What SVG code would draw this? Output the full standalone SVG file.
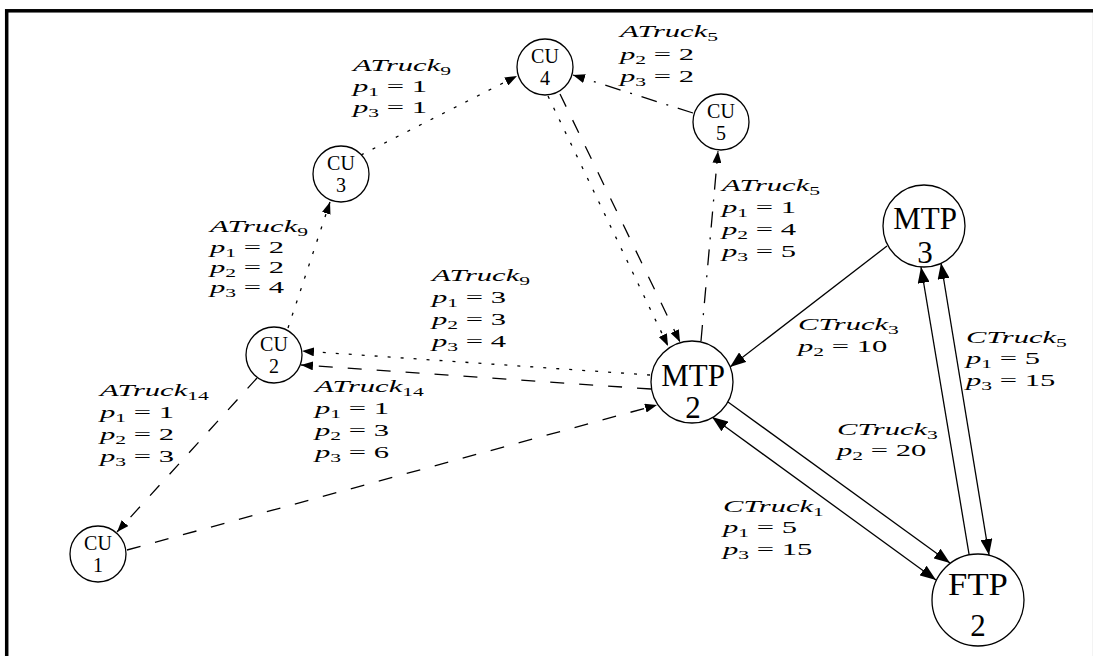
<svg xmlns="http://www.w3.org/2000/svg" width="1093" height="656" viewBox="0 0 1093 656">
  <style>
    .frame { fill: white; stroke: black; stroke-width: 3.5; }
    .node circle { fill: white; stroke: black; stroke-width: 1.3; }
    .node text { font-family: "Liberation Serif", "Times New Roman", serif; font-size: 20px; text-anchor: middle; fill: black; }
    .node.big text { font-size: 31px; }
    .edge { fill: none; stroke: black; stroke-width: 1.3; }
    .dot { stroke-dasharray: 3 10; }
    .dash { stroke-dasharray: 14 15; }
    .dd { stroke-dasharray: 16 10 2 10; }
    .lbl text { font-family: "Liberation Serif", "Times New Roman", serif; font-size: 17px; fill: black; white-space: pre; }
    .it { font-style: italic; }
    .sub { font-size: 12px; }
  </style>
  <defs>
    <marker id="as" markerUnits="userSpaceOnUse" markerWidth="12" markerHeight="9" refX="12" refY="4.5" orient="auto-start-reverse">
      <path d="M0,0 L12,4.5 L0,9 Z" fill="black"/>
    </marker>
    <marker id="al" markerUnits="userSpaceOnUse" markerWidth="16" markerHeight="12" refX="16" refY="6" orient="auto-start-reverse">
      <path d="M0,0 L16,6 L0,12 Z" fill="black"/>
    </marker>
  </defs>

  <!-- outer frame -->
  <rect class="frame" x="6.7" y="10.8" width="1088" height="700"/>

  <!-- connectors and their labels -->
  <g id="connectors">
    <g id="e-cu3-cu4">
      <path class="edge dot" d="M361,155 L517,76" marker-end="url(#as)"/>
      <g class="lbl">
        <text transform="translate(353 71) scale(1.8 1)"><tspan class="it">ATruck</tspan><tspan class="sub" dy="4">9</tspan></text>
        <text transform="translate(353 92) scale(1.8 1)"><tspan class="it">p</tspan><tspan class="sub" dy="4">1</tspan><tspan dy="-4"> = 1</tspan></text>
        <text transform="translate(353 113) scale(1.8 1)"><tspan class="it">p</tspan><tspan class="sub" dy="4">3</tspan><tspan dy="-4"> = 1</tspan></text>
      </g>
    </g>
    <g id="e-cu5-cu4">
      <path class="edge dd" d="M693,113 L573,75" marker-end="url(#as)"/>
      <g class="lbl">
        <text transform="translate(620 37) scale(1.8 1)"><tspan class="it">ATruck</tspan><tspan class="sub" dy="4">5</tspan></text>
        <text transform="translate(620 59.5) scale(1.8 1)"><tspan class="it">p</tspan><tspan class="sub" dy="4">2</tspan><tspan dy="-4"> = 2</tspan></text>
        <text transform="translate(620 81.5) scale(1.8 1)"><tspan class="it">p</tspan><tspan class="sub" dy="4">3</tspan><tspan dy="-4"> = 2</tspan></text>
      </g>
    </g>
    <g id="e-cu4-mtp2-a">
      <path class="edge dot" d="M548,96 L668,346" marker-end="url(#as)"/>
    </g>
    <g id="e-cu4-mtp2-b">
      <path class="edge dash" d="M560,94 L680,342" marker-end="url(#as)"/>
    </g>
    <g id="e-mtp2-cu5">
      <path class="edge dd" d="M701,341 L718,151" marker-end="url(#as)"/>
      <g class="lbl">
        <text transform="translate(722 191) scale(1.8 1)"><tspan class="it">ATruck</tspan><tspan class="sub" dy="4">5</tspan></text>
        <text transform="translate(722 213) scale(1.8 1)"><tspan class="it">p</tspan><tspan class="sub" dy="4">1</tspan><tspan dy="-4"> = 1</tspan></text>
        <text transform="translate(722 235) scale(1.8 1)"><tspan class="it">p</tspan><tspan class="sub" dy="4">2</tspan><tspan dy="-4"> = 4</tspan></text>
        <text transform="translate(722 257) scale(1.8 1)"><tspan class="it">p</tspan><tspan class="sub" dy="4">3</tspan><tspan dy="-4"> = 5</tspan></text>
      </g>
    </g>
    <g id="e-cu2-cu3">
      <path class="edge dot" d="M288,328 L330,202" marker-end="url(#as)"/>
      <g class="lbl">
        <text transform="translate(210 232) scale(1.8 1)"><tspan class="it">ATruck</tspan><tspan class="sub" dy="4">9</tspan></text>
        <text transform="translate(210 253) scale(1.8 1)"><tspan class="it">p</tspan><tspan class="sub" dy="4">1</tspan><tspan dy="-4"> = 2</tspan></text>
        <text transform="translate(210 273) scale(1.8 1)"><tspan class="it">p</tspan><tspan class="sub" dy="4">2</tspan><tspan dy="-4"> = 2</tspan></text>
        <text transform="translate(210 293) scale(1.8 1)"><tspan class="it">p</tspan><tspan class="sub" dy="4">3</tspan><tspan dy="-4"> = 4</tspan></text>
      </g>
    </g>
    <g id="e-mtp2-cu2-a">
      <path class="edge dot" d="M650,375 L302,351" marker-end="url(#as)"/>
      <g class="lbl">
        <text transform="translate(432 281) scale(1.8 1)"><tspan class="it">ATruck</tspan><tspan class="sub" dy="4">9</tspan></text>
        <text transform="translate(432 303) scale(1.8 1)"><tspan class="it">p</tspan><tspan class="sub" dy="4">1</tspan><tspan dy="-4"> = 3</tspan></text>
        <text transform="translate(432 325) scale(1.8 1)"><tspan class="it">p</tspan><tspan class="sub" dy="4">2</tspan><tspan dy="-4"> = 3</tspan></text>
        <text transform="translate(432 347) scale(1.8 1)"><tspan class="it">p</tspan><tspan class="sub" dy="4">3</tspan><tspan dy="-4"> = 4</tspan></text>
      </g>
    </g>
    <g id="e-mtp2-cu2-b">
      <path class="edge dash" d="M651,389 L301,365" marker-end="url(#as)"/>
      <g class="lbl">
        <text transform="translate(315 392) scale(1.8 1)"><tspan class="it">ATruck</tspan><tspan class="sub" dy="4">14</tspan></text>
        <text transform="translate(315 414) scale(1.8 1)"><tspan class="it">p</tspan><tspan class="sub" dy="4">1</tspan><tspan dy="-4"> = 1</tspan></text>
        <text transform="translate(315 436) scale(1.8 1)"><tspan class="it">p</tspan><tspan class="sub" dy="4">2</tspan><tspan dy="-4"> = 3</tspan></text>
        <text transform="translate(315 458) scale(1.8 1)"><tspan class="it">p</tspan><tspan class="sub" dy="4">3</tspan><tspan dy="-4"> = 6</tspan></text>
      </g>
    </g>
    <g id="e-cu2-cu1">
      <path class="edge dash" d="M257,378 L117,532" marker-end="url(#as)"/>
      <g class="lbl">
        <text transform="translate(100 396) scale(1.8 1)"><tspan class="it">ATruck</tspan><tspan class="sub" dy="4">14</tspan></text>
        <text transform="translate(100 418) scale(1.8 1)"><tspan class="it">p</tspan><tspan class="sub" dy="4">1</tspan><tspan dy="-4"> = 1</tspan></text>
        <text transform="translate(100 440) scale(1.8 1)"><tspan class="it">p</tspan><tspan class="sub" dy="4">2</tspan><tspan dy="-4"> = 2</tspan></text>
        <text transform="translate(100 462) scale(1.8 1)"><tspan class="it">p</tspan><tspan class="sub" dy="4">3</tspan><tspan dy="-4"> = 3</tspan></text>
      </g>
    </g>
    <g id="e-cu1-mtp2">
      <path class="edge dash" d="M127,550 L657,405" marker-end="url(#as)"/>
    </g>
    <g id="e-mtp3-mtp2">
      <path class="edge" d="M887,246 L730,367" marker-end="url(#al)"/>
      <g class="lbl">
        <text transform="translate(798 330) scale(1.8 1)"><tspan class="it">CTruck</tspan><tspan class="sub" dy="4">3</tspan></text>
        <text transform="translate(798 352) scale(1.8 1)"><tspan class="it">p</tspan><tspan class="sub" dy="4">2</tspan><tspan dy="-4"> = 10</tspan></text>
      </g>
    </g>
    <g id="e-mtp2-ftp2">
      <path class="edge" d="M728,402 L950,563" marker-end="url(#al)"/>
      <g class="lbl">
        <text transform="translate(837 435) scale(1.8 1)"><tspan class="it">CTruck</tspan><tspan class="sub" dy="4">3</tspan></text>
        <text transform="translate(837 456) scale(1.8 1)"><tspan class="it">p</tspan><tspan class="sub" dy="4">2</tspan><tspan dy="-4"> = 20</tspan></text>
      </g>
    </g>
    <g id="e-ftp2-mtp2">
      <path class="edge" d="M712,417 L936,580" marker-start="url(#al)" marker-end="url(#al)"/>
      <g class="lbl">
        <text transform="translate(723 512) scale(1.8 1)"><tspan class="it">CTruck</tspan><tspan class="sub" dy="4">1</tspan></text>
        <text transform="translate(723 533) scale(1.8 1)"><tspan class="it">p</tspan><tspan class="sub" dy="4">1</tspan><tspan dy="-4"> = 5</tspan></text>
        <text transform="translate(723 555) scale(1.8 1)"><tspan class="it">p</tspan><tspan class="sub" dy="4">3</tspan><tspan dy="-4"> = 15</tspan></text>
      </g>
    </g>
    <g id="e-ftp2-mtp3">
      <path class="edge" d="M969,554 L921,267" marker-end="url(#al)"/>
    </g>
    <g id="e-mtp3-ftp2">
      <path class="edge" d="M941,263 L989,555" marker-start="url(#al)" marker-end="url(#al)"/>
      <g class="lbl">
        <text transform="translate(966 343) scale(1.8 1)"><tspan class="it">CTruck</tspan><tspan class="sub" dy="4">5</tspan></text>
        <text transform="translate(966 364) scale(1.8 1)"><tspan class="it">p</tspan><tspan class="sub" dy="4">1</tspan><tspan dy="-4"> = 5</tspan></text>
        <text transform="translate(966 386) scale(1.8 1)"><tspan class="it">p</tspan><tspan class="sub" dy="4">3</tspan><tspan dy="-4"> = 15</tspan></text>
      </g>
    </g>
  </g>

  <!-- nodes -->
  <g id="cu1" class="node">
    <circle cx="98" cy="554" r="28"/>
    <text x="98" y="550">CU</text>
    <text x="98" y="572">1</text>
  </g>
  <g id="cu2" class="node">
    <circle cx="274" cy="355" r="28"/>
    <text x="274" y="351">CU</text>
    <text x="274" y="373">2</text>
  </g>
  <g id="cu3" class="node">
    <circle cx="341" cy="174" r="28"/>
    <text x="341" y="170">CU</text>
    <text x="341" y="192">3</text>
  </g>
  <g id="cu4" class="node">
    <circle cx="545" cy="67" r="28"/>
    <text x="545" y="63">CU</text>
    <text x="545" y="85">4</text>
  </g>
  <g id="cu5" class="node">
    <circle cx="721" cy="122" r="28"/>
    <text x="721" y="118">CU</text>
    <text x="721" y="140">5</text>
  </g>
  <g id="mtp2" class="node big">
    <circle cx="692" cy="382" r="41"/>
    <text x="693" y="386">MTP</text>
    <text x="693" y="418">2</text>
  </g>
  <g id="mtp3" class="node big">
    <circle cx="924" cy="226" r="41"/>
    <text x="925" y="229">MTP</text>
    <text x="925" y="263">3</text>
  </g>
  <g id="ftp2" class="node big">
    <circle cx="978" cy="600" r="46"/>
    <text transform="translate(978 595) scale(1.12 1)">FTP</text>
    <text x="978" y="636">2</text>
  </g>
</svg>
